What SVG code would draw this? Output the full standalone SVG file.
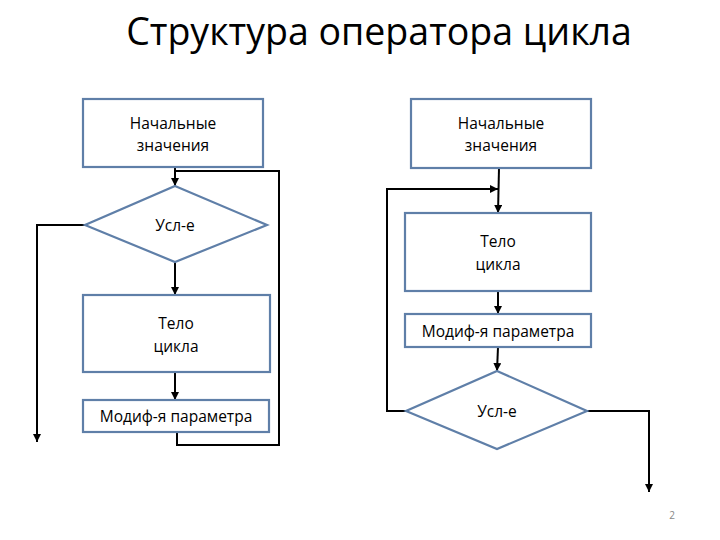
<svg xmlns="http://www.w3.org/2000/svg" width="720" height="540" viewBox="0 0 720 540">
<defs>
<marker id="arr" viewBox="0 0 10 10" refX="10" refY="5" markerWidth="4" markerHeight="4" orient="auto" markerUnits="strokeWidth">
<path d="M0,0 L10,5 L0,10 z" fill="#000"/>
</marker>
<style>
.box{fill:#fff;stroke:#5F7FA8;stroke-width:2.2}
.t{font-family:"Open Sans","Liberation Sans",sans-serif;font-size:15.5px;fill:#000;text-anchor:middle}
.c{fill:none;stroke:#000;stroke-width:2;marker-end:url(#arr)}
.cn{fill:none;stroke:#000;stroke-width:2}
</style>
</defs>
<rect width="720" height="540" fill="#fff"/>
<text x="379" y="45" font-family="Open Sans, Liberation Sans, sans-serif" font-size="37.5" text-anchor="middle" fill="#000">Структура оператора цикла</text>
<g id="connectors">
<path class="c" d="M175,167 L175,186"/>
<path class="cn" d="M175,171 L279,171 L279,445 L177,445 L177,432"/>
<path class="c" d="M87,225 L37,225 L37,442"/>
<path class="c" d="M175,262 L175,295"/>
<path class="c" d="M175,372 L175,400"/>
<path class="c" d="M499,168 L498,213"/>
<path class="c" d="M406,411 L387,411 L387,189 L498,189"/>
<path class="c" d="M498,291 L498,314"/>
<path class="c" d="M498,347 L497,371"/>
<path class="c" d="M587,411 L649,411 L649,492"/>
</g>
<g id="l-init"><rect class="box" x="83" y="99" width="180" height="68"/><text class="t" x="173" y="129">Начальные</text><text class="t" x="173" y="151">значения</text></g>
<g id="l-cond"><polygon class="box" points="175,186 267,225 175,262 85,225"/><text class="t" x="175" y="231">Усл-е</text></g>
<g id="l-body"><rect class="box" x="83" y="295" width="187" height="77"/><text class="t" x="176" y="329">Тело</text><text class="t" x="176" y="352">цикла</text></g>
<g id="l-mod"><rect class="box" x="83" y="400" width="186" height="32"/><text class="t" x="176" y="422">Модиф-я параметра</text></g>
<g id="r-init"><rect class="box" x="411" y="99" width="180" height="69"/><text class="t" x="501" y="129">Начальные</text><text class="t" x="501" y="151">значения</text></g>
<g id="r-body"><rect class="box" x="405" y="213" width="186" height="78"/><text class="t" x="498" y="247">Тело</text><text class="t" x="498" y="270">цикла</text></g>
<g id="r-mod"><rect class="box" x="405" y="314" width="186" height="33"/><text class="t" x="498" y="337">Модиф-я параметра</text></g>
<g id="r-cond"><polygon class="box" points="497,371 587,411 497,449 406,411"/><text class="t" x="497" y="417">Усл-е</text></g>
<text x="672" y="519" font-family="Open Sans, Liberation Sans, sans-serif" font-size="10" fill="#888" text-anchor="middle">2</text>
</svg>
